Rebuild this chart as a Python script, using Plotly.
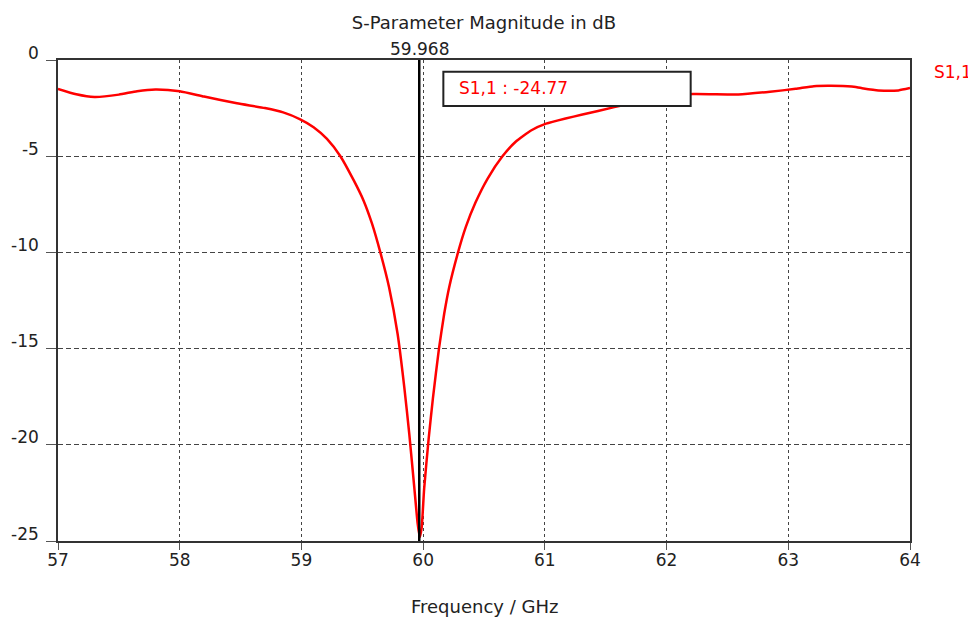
import plotly.graph_objects as go

# ---- data ----
freq_ghz = [57.00, 57.15, 57.30, 57.50, 57.65, 57.80, 58.00, 58.20, 58.47, 58.70,
            58.85, 58.99, 59.10, 59.21, 59.32, 59.43, 59.51, 59.58, 59.65, 59.72,
            59.79, 59.845, 59.886, 59.927, 59.955, 59.972, 59.988, 60.008, 60.045, 60.08,
            60.13, 60.173, 60.214, 60.285, 60.35, 60.43, 60.53, 60.65, 60.76, 60.89,
            61.01, 61.17, 61.30, 61.57, 61.85, 62.00, 62.215, 62.59, 62.85, 63.06,
            63.21, 63.35, 63.52, 63.60, 63.74, 63.905, 64.00]
s11_db = [-1.50, -1.78, -1.92, -1.80, -1.62, -1.53, -1.62, -1.90, -2.25, -2.50,
          -2.72, -3.08, -3.49, -4.10, -5.00, -6.26, -7.30, -8.51, -10.04, -11.81,
          -14.23, -17.00, -19.43, -22.20, -24.10, -24.80, -24.30, -22.30, -19.70, -17.60,
          -15.00, -13.19, -11.81, -10.04, -8.69, -7.41, -6.16, -5.02, -4.25, -3.65,
          -3.31, -3.04, -2.85, -2.45, -2.08, -1.90, -1.77, -1.79, -1.65, -1.50,
          -1.36, -1.34, -1.38, -1.46, -1.58, -1.58, -1.46]
series_name = "S1,1"
marker_freq = 59.968
marker_value = -24.77
x_ticks = [57, 58, 59, 60, 61, 62, 63, 64]
y_ticks = [0, -5, -10, -15, -20, -25]

FONT = "DejaVu Sans"
RED = "#ff0000"
INK = "#222222"

fig = go.Figure()
fig.add_trace(go.Scatter(
    x=freq_ghz, y=s11_db, mode="lines", name=series_name,
    line=dict(color=RED, width=2.5, shape="spline", smoothing=0.5),
    showlegend=False, hoverinfo="skip"))

# page body has an 8px margin, so the figure is 8px smaller than the window
W, H = 968, 609
fig.update_layout(
    width=W, height=H,
    margin=dict(l=50, r=66, t=52, b=76, autoexpand=False),
    paper_bgcolor="white", plot_bgcolor="white",
    font=dict(family=FONT, size=17, color=INK),
    title=dict(text="S-Parameter Magnitude in dB", x=(484 - 8) / W, xref="container",
               xanchor="center", y=1 - 15 / H, yref="container", yanchor="middle",
               font=dict(family=FONT, size=18, color=INK)),
)

fig.update_xaxes(
    range=[57, 64], tickvals=x_ticks, ticktext=[str(v) for v in x_ticks],
    showline=True, linecolor="#333333", linewidth=1.5, mirror=True,
    showgrid=True, gridcolor="#444444", gridwidth=1, griddash="3px,3px",
    ticks="outside", ticklen=7, tickcolor="#555555", tickwidth=1,
    ticklabelstandoff=-4,
    zeroline=False, tickfont=dict(family=FONT, size=17, color=INK))
fig.update_yaxes(
    range=[-25, 0], tickvals=y_ticks, ticktext=[str(v) for v in y_ticks],
    showline=True, linecolor="#333333", linewidth=1.5, mirror=True,
    showgrid=True, gridcolor="#444444", gridwidth=1, griddash="5px,3px",
    ticks="outside", ticklen=10, tickcolor="#555555", tickwidth=1,
    ticklabelposition="outside top", ticklabelstandoff=14, ticklabelshift=5,
    zeroline=False, tickfont=dict(family=FONT, size=17, color=INK))

# marker line
fig.add_shape(type="line", x0=marker_freq, x1=marker_freq, y0=-25, y1=0,
              xref="x", yref="y", line=dict(color="black", width=2.5), layer="above")
fig.add_annotation(x=marker_freq, y=1, xref="x", yref="paper", yanchor="bottom",
                   text=f"{marker_freq:.3f}", showarrow=False, yshift=-1,
                   font=dict(family=FONT, size=17, color=INK))

# marker readout box
box_x0 = marker_freq + 0.198
box_x1 = marker_freq + 2.23
fig.add_shape(type="rect", x0=box_x0, x1=box_x1, y0=-2.39, y1=-0.61,
              xref="x", yref="y", fillcolor="white",
              line=dict(color="#222222", width=2), layer="above")
fig.add_annotation(x=box_x0 + 0.11, y=-1.47, xref="x", yref="y",
                   xanchor="left", yanchor="middle", showarrow=False,
                   text=f"{series_name} : {marker_value:.2f}",
                   font=dict(family=FONT, size=17, color=RED))

# series label at right
fig.add_annotation(x=1.026, y=1 - 12 / 481, xref="paper", yref="paper",
                   xanchor="left", yanchor="middle", showarrow=False,
                   text=series_name, font=dict(family=FONT, size=17, color=RED))

# x axis title
fig.add_annotation(x=0.5, y=-(606 - 541) / 481, xref="paper", yref="paper",
                   xanchor="center", yanchor="middle", showarrow=False,
                   text="Frequency / GHz", font=dict(family=FONT, size=18, color=INK))

fig.write_html("out.html")
